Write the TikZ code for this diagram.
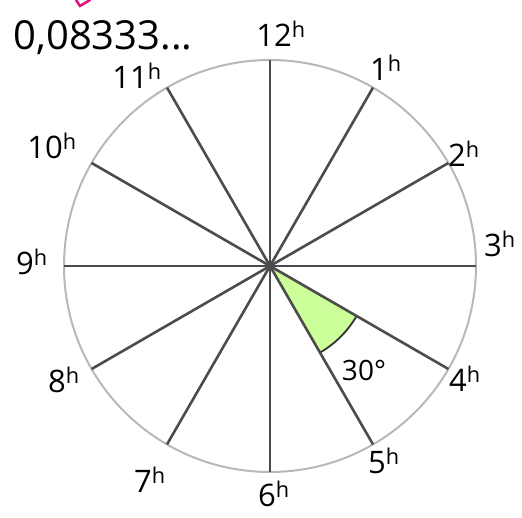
\documentclass[tikz,border=0pt]{standalone}
\usepackage{fontspec}
\setmainfont{Open Sans}
\usetikzlibrary{calc}
\begin{document}
\begin{tikzpicture}[x=1pt,y=-1pt,
  spoke/.style={draw=black!70, line width=2.6pt},
  rim/.style={draw=black!28, line width=2pt},
  hour/.style={font=\fontsize{31}{33}\selectfont, inner sep=0pt},
  big/.style={font=\fontsize{40}{42}\selectfont, inner sep=0pt}]
\useasboundingbox (0,0) rectangle (522,518);
\coordinate (c) at (270,266);
\def\R{206}
% green wedge
\fill[green!50!yellow!40] (c) -- ++(30:100) arc[start angle=30, end angle=60, radius=100] -- cycle;
\draw[black!80, line width=1.8pt] (c) ++(30:100) arc[start angle=30, end angle=60, radius=100];
% rim
\draw[rim] (c) circle[radius=\R];
% spokes
\foreach \i in {0,...,11}{
  \coordinate (p\i) at ($(c)+({-90+30*\i}:\R)$);
}
\foreach \i in {0,...,11}{
  \draw[spoke] (c) -- (p\i);
}
% labels
\node[hour] (l12) at (281,34) {12\textsuperscript{h}};
\node[hour] (l1) at (386,68) {1\textsuperscript{h}};
\node[hour] (l2) at (464,154) {2\textsuperscript{h}};
\node[hour] (l3) at (500,244) {3\textsuperscript{h}};
\node[hour] (l4) at (465,379) {4\textsuperscript{h}};
\node[hour] (l5) at (384,461) {5\textsuperscript{h}};
\node[hour] (l6) at (274,494) {6\textsuperscript{h}};
\node[hour] (l7) at (150,480) {7\textsuperscript{h}};
\node[hour] (l8) at (64,380) {8\textsuperscript{h}};
\node[hour] (l9) at (32,262) {9\textsuperscript{h}};
\node[hour] (l10) at (52,146) {10\textsuperscript{h}};
\node[hour] (l11) at (137,76) {11\textsuperscript{h}};
\node[big] (val) at (103,38) {0,08333...};
\node[font=\fontsize{28}{30}\selectfont, inner sep=0pt] (deg) at (364,370) {30°};
% magenta fragment
\draw[magenta!80!purple, line width=2.5pt, line cap=round] (76,0) -- (80,6) -- (90,0);
\end{tikzpicture}
\end{document}
